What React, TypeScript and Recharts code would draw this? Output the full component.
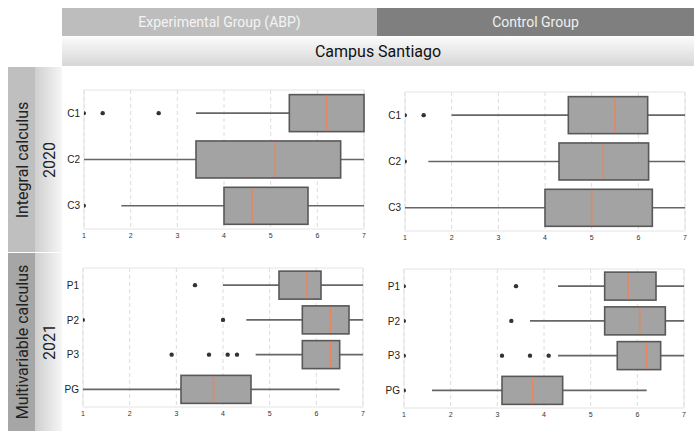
import { ComposedChart, Bar, XAxis, YAxis, CartesianGrid, ReferenceArea } from 'recharts'

const ticks = [1, 2, 3, 4, 5, 6, 7]
const cats2020 = ['C1', 'C2', 'C3']
const cats2021 = ['P1', 'P2', 'P3', 'PG']

// each row: [whisker low, q1, median, q3, whisker high]
const exp2020 = [
  [3.4, 5.4, 6.2, 7.0, 7.0],
  [1.0, 3.4, 5.1, 6.5, 7.0],
  [1.8, 4.0, 4.6, 5.8, 7.0],
]
const exp2020Out = [[1, 1.4, 2.6], [], [1]]

const ctl2020 = [
  [2.0, 4.5, 5.5, 6.2, 7.0],
  [1.5, 4.3, 5.25, 6.22, 7.0],
  [1.0, 4.0, 5.0, 6.3, 7.0],
]
const ctl2020Out = [[1, 1.4], [1], []]

const exp2021 = [
  [4.0, 5.2, 5.8, 6.1, 7.0],
  [4.5, 5.7, 6.3, 6.7, 7.0],
  [4.7, 5.7, 6.3, 6.5, 7.0],
  [1.0, 3.1, 3.8, 4.6, 6.5],
]
const exp2021Out = [[3.4], [1, 4.0], [2.9, 3.7, 4.1, 4.3], []]

const ctl2021 = [
  [4.3, 5.3, 5.8, 6.4, 7.0],
  [3.7, 5.3, 6.05, 6.6, 7.0],
  [4.3, 5.57, 6.2, 6.5, 7.0],
  [1.6, 3.1, 3.75, 4.4, 6.2],
]
const ctl2021Out = [[1, 3.4], [1, 3.3], [1, 3.1, 3.7, 4.1], [1]]

function rowsOf(cats: string[], stats: number[][], outs: number[][]) {
  return cats.map((name, i) => {
    const [lo, q1, med, q3, hi] = stats[i]
    return { name, lo, q1, med, q3, hi, out: outs[i] }
  })
}

function BoxShape(props: any) {
  const { x, y, width, height, payload: d } = props
  const k = width / (d.hi - d.lo)
  const px = (v: number) => x + (v - d.lo) * k
  const cy = y + height / 2
  const xMin = px(ticks[0])
  return (
    <g>
      <line x1={px(d.lo)} x2={px(d.hi)} y1={cy} y2={cy} stroke="#666" strokeWidth={1.6} />
      <rect x={px(d.q1)} y={y} width={px(d.q3) - px(d.q1)} height={height} fill="#a3a3a3" stroke="#585858" strokeWidth={1.6} />
      <line x1={px(d.med)} x2={px(d.med)} y1={y + 1} y2={y + height - 1} stroke="#e8865f" strokeWidth={1.6} />
      {d.out.map((v: number, i: number) => {
        const cx = px(v)
        if (cx <= xMin + 0.5) {
          return <path key={i} d={`M${xMin},${cy - 2} A2,2 0 0 1 ${xMin},${cy + 2} Z`} fill="#333" />
        }
        return <circle key={i} cx={cx} cy={cy} r={2.2} fill="#333" />
      })}
    </g>
  )
}

interface PanelProps {
  rows: any[]
  left: number
  top: number
  width: number
  height: number
  margin: { top: number; right: number; bottom: number; left: number }
  gap: string
}

function Panel({ rows, left, top, width, height, margin, gap }: PanelProps) {
  return (
    <div style={{ position: 'absolute', left, top }}>
      <ComposedChart layout="vertical" width={width} height={height} data={rows} margin={margin} barCategoryGap={gap}>
        <CartesianGrid horizontal={false} strokeDasharray="4 3" stroke="#dcdcdc" />
        <ReferenceArea x1={1} x2={7} fill="none" stroke="#e4e4e4" />
        <XAxis type="number" domain={[1, 7]} ticks={ticks} height={14} tickLine={false} axisLine={false} tickSize={4} tickMargin={0}
          tick={{ fontSize: 7, fill: '#333', fontFamily: 'Liberation Sans' }} interval={0} />
        <YAxis type="category" dataKey="name" width={20} tickLine={false} axisLine={false} tickSize={4} tickMargin={0}
          tick={{ fontSize: 10, fill: '#222', fontFamily: 'Liberation Sans' }} interval={0} />
        <Bar dataKey={(d: any) => [d.lo, d.hi]} shape={BoxShape} isAnimationActive={false} />
      </ComposedChart>
    </div>
  )
}

const headFont = 'Roboto, sans-serif'

export default function App() {
  return (
    <div style={{ position: 'absolute', left: 0, top: 0, width: 694, height: 431, background: '#fff', overflow: 'hidden', fontFamily: headFont }}>
      <div style={{ position: 'absolute', left: 62, top: 8, width: 315, height: 28, background: '#bdbdbd', color: '#f4f4f4', fontSize: 14, display: 'flex', alignItems: 'center', justifyContent: 'center' }}>
        Experimental Group (ABP)
      </div>
      <div style={{ position: 'absolute', left: 377, top: 8, width: 317, height: 28, background: '#7f7f7f', color: '#f0f0f0', fontSize: 14, display: 'flex', alignItems: 'center', justifyContent: 'center' }}>
        Control Group
      </div>
      <div style={{ position: 'absolute', left: 62, top: 37, width: 632, height: 29, background: 'linear-gradient(#fbfbfb, #d6d6d6)', color: '#111', fontSize: 16, display: 'flex', alignItems: 'center', justifyContent: 'center' }}>
        Campus Santiago
      </div>

      <div style={{ position: 'absolute', left: 8, top: 67, width: 27, height: 185, background: '#bfbfbf' }} />
      <div style={{ position: 'absolute', left: 35, top: 67, width: 27, height: 185, background: 'linear-gradient(to right, #cfcfcf, #f6f6f6)' }} />
      <div style={{ position: 'absolute', left: 8, top: 253, width: 27, height: 178, background: '#a6a6a6' }} />
      <div style={{ position: 'absolute', left: 35, top: 253, width: 27, height: 178, background: 'linear-gradient(to right, #cfcfcf, #f6f6f6)' }} />

      <div style={{ position: 'absolute', left: 21.5, top: 160, transform: 'translate(-50%, -50%) rotate(-90deg)', whiteSpace: 'nowrap', fontSize: 16, color: '#222' }}>Integral calculus</div>
      <div style={{ position: 'absolute', left: 48.5, top: 160, transform: 'translate(-50%, -50%) rotate(-90deg)', whiteSpace: 'nowrap', fontSize: 16, color: '#222' }}>2020</div>
      <div style={{ position: 'absolute', left: 21.5, top: 342, transform: 'translate(-50%, -50%) rotate(-90deg)', whiteSpace: 'nowrap', fontSize: 16, color: '#222' }}>Multivariable calculus</div>
      <div style={{ position: 'absolute', left: 48.5, top: 342, transform: 'translate(-50%, -50%) rotate(-90deg)', whiteSpace: 'nowrap', fontSize: 16, color: '#222' }}>2021</div>

      <Panel rows={rowsOf(cats2020, exp2020, exp2020Out)} left={62} top={68} width={310} height={175}
        margin={{ top: 22, right: 8, bottom: 0, left: 2 }} gap="10%" />
      <Panel rows={rowsOf(cats2020, ctl2020, ctl2020Out)} left={378} top={68} width={316} height={177}
        margin={{ top: 24, right: 9, bottom: 0, left: 7 }} gap="10%" />
      <Panel rows={rowsOf(cats2021, exp2021, exp2021Out)} left={62} top={254} width={310} height={167}
        margin={{ top: 14, right: 9, bottom: 0, left: 1 }} gap="9%" />
      <Panel rows={rowsOf(cats2021, ctl2021, ctl2021Out)} left={378} top={254} width={316} height={168}
        margin={{ top: 15, right: 10, bottom: 0, left: 6 }} gap="9%" />
    </div>
  )
}
